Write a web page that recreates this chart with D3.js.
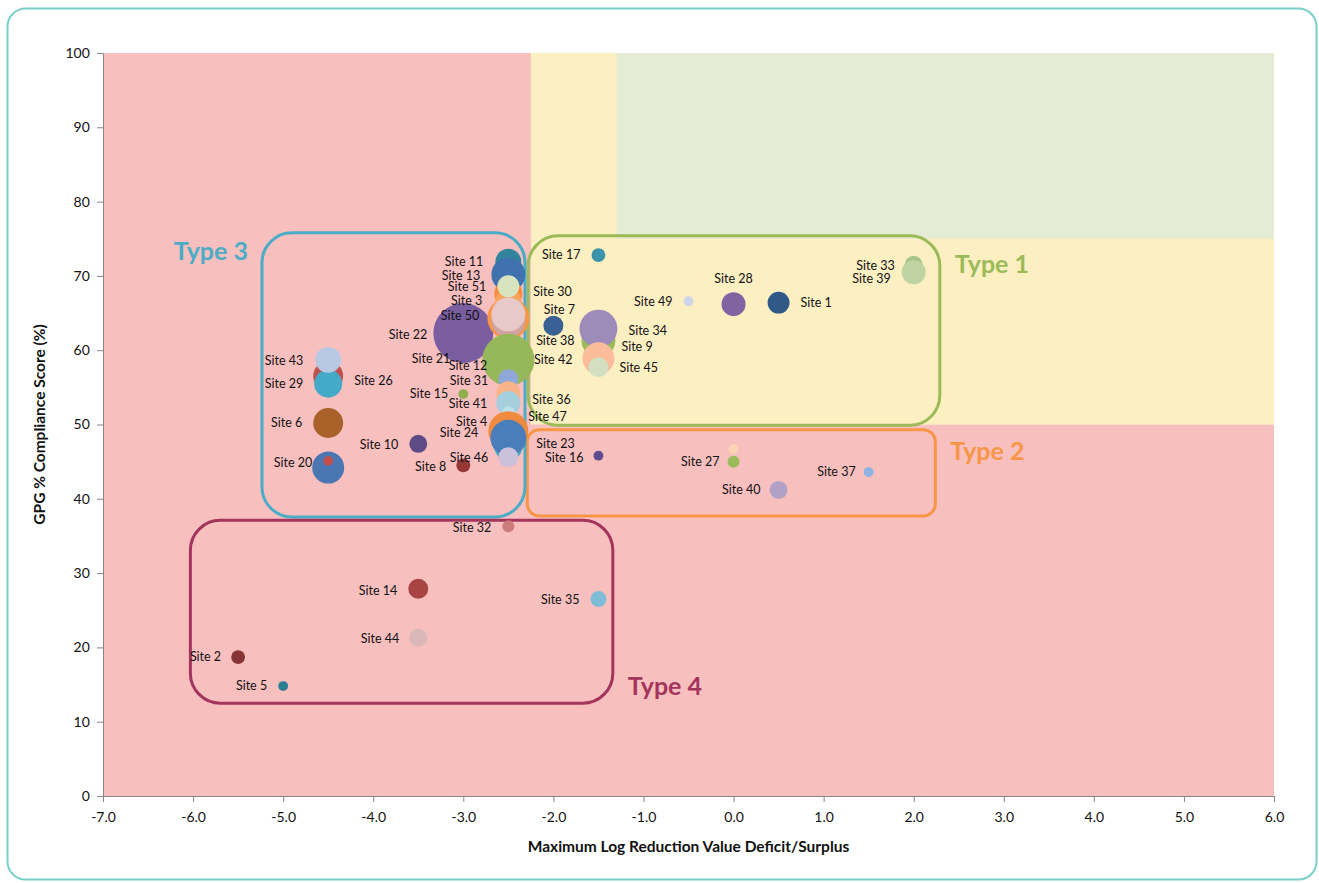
<!DOCTYPE html>
<html>
<head>
<meta charset="utf-8">
<script src="https://cdn.jsdelivr.net/npm/d3@7"></script>
<style>
  body { margin: 0; background: #fff; }
  .chart text { font-family: Lato, 'Open Sans', sans-serif; fill: #111; }
  .axis path, .axis line { stroke: #868686; }
  .axis text { font-size: 14px; }
  .lbl { font-size: 12.5px; }
  .title { font-size: 15.5px; font-weight: bold; }
  .type { font-size: 25px; font-weight: bold; }
</style>
</head>
<body>
<div class="chart"></div>
<script>
(function () {
  // sites, drawn in this order (later ones sit on top)
  var sites = ['Site 21', 'Site 22', 'Site 11', 'Site 13', 'Site 19', 'Site 30', 'Site 3', 'Site 51', 'Site 25', 'Site 50',
    'Site 12', 'Site 31', 'Site 36', 'Site 41', 'Site 47', 'Site 4', 'Site 23', 'Site 24', 'Site 46',
    'Site 32', 'Site 15', 'Site 8', 'Site 10', 'Site 14', 'Site 44', 'Site 2',
    'Site 5', 'Site 26', 'Site 29', 'Site 43', 'Site 6', 'Site 20', 'Site 48', 'Site 35', 'Site 17',
    'Site 38', 'Site 7', 'Site 9', 'Site 34', 'Site 42', 'Site 45', 'Site 16', 'Site 49', 'Site 28',
    'Site 1', 'Site 18', 'Site 27', 'Site 40', 'Site 37', 'Site 33', 'Site 39'];
  var lrvDeficit = [-3, -3, -2.5, -2.5, -2.5, -2.5, -2.5, -2.5, -2.5, -2.5,
    -2.5, -2.5, -2.5, -2.5, -2.5, -2.5, -2.5, -2.5, -2.5,
    -2.5, -3, -3, -3.5, -3.5, -3.5, -5.5,
    -5, -4.5, -4.5, -4.5, -4.5, -4.5, -4.5, -1.5, -1.5,
    -2, -2, -1.5, -1.5, -1.5, -1.5, -1.5, -0.5, 0,
    0.5, 0, 0, 0.5, 1.5, 2, 2];
  var compliance = [59.4, 62.3, 71.9, 70.2, 64.3, 67.6, 66.6, 68.6, 64.0, 64.8,
    58.7, 56.1, 54.2, 52.9, 51.5, 49.1, 47.0, 48.2, 45.6,
    36.3, 54.1, 44.5, 47.4, 27.9, 21.3, 18.7,
    14.8, 56.5, 55.5, 58.7, 50.2, 44.2, 45.1, 26.5, 72.8,
    63.3, 63.3, 61.3, 62.9, 58.9, 57.7, 45.8, 66.6, 66.2,
    66.4, 46.7, 45.0, 41.2, 43.6, 71.5, 70.5];
  var bubbleSize = [16, 225, 42, 72, 110, 49, 42, 30, 72, 72,
    170, 25, 36, 36, 12, 100, 49, 81, 25,
    9, 6, 12, 20, 25, 20, 12,
    6, 56, 49, 42, 56, 64, 6, 16, 12,
    20, 25, 72, 90, 64, 25, 6, 6, 36,
    30, 6, 9, 20, 6, 20, 36];

  var siteColors = ['#6A5088', '#7B5EA0', '#31849B', '#3F72AF', '#F79646', '#F68B3A', '#F9A35F', '#D7E4BD', '#D3A1A0', '#E6C9C8',
    '#97B85A', '#8EA8D8', '#FAB48A', '#A5CFDD', '#BCDFE8', '#F08A3E', '#4BACC6', '#4A7EBB', '#CCC1DA',
    '#CB7C7A', '#8DB04D', '#953735', '#5E4A85', '#A84442', '#D9B8B8', '#873535',
    '#2B7F92', '#C0504D', '#44AAC8', '#B7C8E4', '#A8622A', '#4A76B2', '#C0504D', '#7FBCD6', '#3A93AA',
    '#3A6193', '#3A6193', '#9BBB59', '#9D8BBA', '#FABC9A', '#D2E0C1', '#5F4C8F', '#CCD5EA', '#8064A2',
    '#2F5A88', '#FBD4B4', '#9BBB59', '#B2A1C7', '#8DB3E2', '#A7C585', '#BFD4A3'];

  var xTicks = [-7, -6, -5, -4, -3, -2, -1, 0, 1, 2, 3, 4, 5, 6];
  var yTicks = [0, 10, 20, 30, 40, 50, 60, 70, 80, 90, 100];

  // compliance zones
  var zoneNames = ['poor', 'fair', 'good'];
  var zoneX0 = [-7, -2.25, -1.3];
  var zoneY0 = [0, 50, 75];
  var zoneColors = ['#F8BFBF', '#FCEFC2', '#E4ECD6'];

  // type groupings
  var typeNames = ['Type 1', 'Type 2', 'Type 3', 'Type 4'];
  var typeX = [[-2.28, 2.29], [-2.29, 2.24], [-5.235, -2.315], [-6.03, -1.34]];
  var typeY = [[49.9, 75.4], [37.7, 49.3], [37.55, 75.8], [12.5, 37.1]];
  var typeColors = ['#9BBB59', '#F79646', '#4BACC6', '#A3355C'];
  var typeRadius = [30, 12, 30, 30];
  // label placement: [corner, dx, dy, anchor]
  var typeLabelAt = [['tr', 15, 28, 'start'], ['tr', 15, 22, 'start'], ['tl', -14, 18, 'end'], ['br', 15, -17, 'start']];

  // data label placement [anchor, dx, dy] from bubble centre
  var labelAt = {
    'Site 11': ['end', -25, 0], 'Site 13': ['end', -28, 1], 'Site 30': ['start', 25, -2],
    'Site 3': ['end', -26, -1], 'Site 51': ['end', -22, 0], 'Site 50': ['end', -29, 1],
    'Site 12': ['end', -21, 6], 'Site 31': ['end', -20, 1], 'Site 36': ['start', 24, 6],
    'Site 41': ['end', -21, 1], 'Site 47': ['start', 20, 3], 'Site 4': ['end', -21, -10],
    'Site 23': ['start', 28, -3], 'Site 24': ['end', -30, -5], 'Site 46': ['end', -20, 0],
    'Site 32': ['end', -17, 1], 'Site 21': ['end', -13, 4], 'Site 22': ['end', -36, 2],
    'Site 15': ['end', -15, 0], 'Site 8': ['end', -17, 1], 'Site 10': ['end', -20, 1],
    'Site 14': ['end', -21, 2], 'Site 44': ['end', -19, 1], 'Site 2': ['end', -17, 0],
    'Site 5': ['end', -16, 0], 'Site 26': ['start', 26, 4], 'Site 29': ['end', -25, 0],
    'Site 43': ['end', -25, 1], 'Site 6': ['end', -26, 0], 'Site 20': ['end', -16, -5],
    'Site 35': ['end', -19, 1], 'Site 17': ['end', -18, 0], 'Site 38': ['middle', 2, 15],
    'Site 7': ['middle', 6, -16], 'Site 9': ['start', 23, 6], 'Site 34': ['start', 30, 2],
    'Site 42': ['end', -26, 1], 'Site 45': ['start', 21, 0], 'Site 16': ['end', -15, 2],
    'Site 49': ['end', -16, 0], 'Site 28': ['middle', 0, -26], 'Site 1': ['start', 22, 0],
    'Site 27': ['end', -14, 0], 'Site 40': ['end', -18, 0], 'Site 37': ['end', -13, 0],
    'Site 33': ['end', -19, 1], 'Site 39': ['end', -23, 6]
  };

  var W = 1319, H = 883;
  var margin = {top: 53, right: 45, bottom: 87, left: 103};
  var width = W - margin.left - margin.right;
  var height = H - margin.top - margin.bottom;

  var svg = d3.select('.chart').append('svg')
    .attr('width', W)
    .attr('height', H);

  // outer frame
  svg.append('rect')
    .attr('x', 7.5).attr('y', 8.5)
    .attr('width', W - 10).attr('height', H - 12)
    .attr('rx', 18)
    .attr('fill', 'none')
    .attr('stroke', '#7ACFCB')
    .attr('stroke-width', 2);

  var g = svg.append('g').attr('transform', 'translate(' + margin.left + ',' + margin.top + ')');

  var x = d3.scaleLinear().domain([-7, 6]).range([0, width]);
  var y = d3.scaleLinear().domain([0, 100]).range([height, 0]);
  var r = d3.scaleSqrt().domain([0, 225]).range([0, 30]);

  // zones
  g.append('g').selectAll('rect')
    .data(zoneNames)
    .enter().append('rect')
      .attr('x', function (d, i) { return x(zoneX0[i]); })
      .attr('y', 0)
      .attr('width', function (d, i) { return x(6) - x(zoneX0[i]); })
      .attr('height', function (d, i) { return y(zoneY0[i]); })
      .attr('fill', function (d, i) { return zoneColors[i]; });
  // the fair zone only spans 50-75 where good starts
  g.append('rect')
    .attr('x', x(zoneX0[2])).attr('y', y(75))
    .attr('width', x(6) - x(zoneX0[2])).attr('height', y(50) - y(75))
    .attr('fill', zoneColors[1]);

  // axes
  g.append('g')
      .attr('class', 'axis axis--x')
      .attr('transform', 'translate(0,' + height + ')')
      .call(d3.axisBottom(x).tickValues(xTicks).tickFormat(d3.format('.1f')).tickSize(6).tickSizeOuter(0))
    .selectAll('text')
      .attr('dy', '1.2em')
      .text(function (d) { return d3.format('.1f')(d).replace('−', '-'); });
  g.append('g')
      .attr('class', 'axis axis--y')
      .call(d3.axisLeft(y).tickValues(yTicks).tickSize(6).tickSizeOuter(0))
    .selectAll('text')
      .attr('dx', '-0.3em');

  // type boxes
  g.append('g').selectAll('rect')
    .data(typeNames)
    .enter().append('rect')
      .attr('x', function (d, i) { return x(typeX[i][0]); })
      .attr('y', function (d, i) { return y(typeY[i][1]); })
      .attr('width', function (d, i) { return x(typeX[i][1]) - x(typeX[i][0]); })
      .attr('height', function (d, i) { return y(typeY[i][0]) - y(typeY[i][1]); })
      .attr('rx', function (d, i) { return typeRadius[i]; })
      .attr('fill', 'none')
      .attr('stroke', function (d, i) { return typeColors[i]; })
      .attr('stroke-width', 3);

  // bubbles
  g.append('g').selectAll('circle')
    .data(sites)
    .enter().append('circle')
      .attr('cx', function (d, i) { return x(lrvDeficit[i]); })
      .attr('cy', function (d, i) { return y(compliance[i]); })
      .attr('r', function (d, i) { return r(bubbleSize[i]); })
      .attr('fill', function (d, i) { return siteColors[i]; });

  // data labels
  g.append('g').selectAll('text')
    .data(sites.filter(function (d) { return labelAt[d]; }))
    .enter().append('text')
      .attr('class', 'lbl')
      .attr('x', function (d) { return x(lrvDeficit[sites.indexOf(d)]) + labelAt[d][1]; })
      .attr('y', function (d) { return y(compliance[sites.indexOf(d)]) + labelAt[d][2]; })
      .attr('dy', '0.35em')
      .attr('text-anchor', function (d) { return labelAt[d][0]; })
      .text(function (d) { return d; });

  // type labels
  g.append('g').selectAll('text')
    .data(typeNames)
    .enter().append('text')
      .attr('class', 'type')
      .attr('x', function (d, i) {
        var c = typeLabelAt[i][0];
        return x(c[1] === 'r' ? typeX[i][1] : typeX[i][0]) + typeLabelAt[i][1];
      })
      .attr('y', function (d, i) {
        var c = typeLabelAt[i][0];
        return y(c[0] === 't' ? typeY[i][1] : typeY[i][0]) + typeLabelAt[i][2];
      })
      .attr('dy', '0.35em')
      .attr('text-anchor', function (d, i) { return typeLabelAt[i][3]; })
      .style('fill', function (d, i) { return typeColors[i]; })
      .text(function (d) { return d; });

  // axis titles
  g.append('text')
    .attr('class', 'title')
    .attr('transform', 'rotate(-90)')
    .attr('x', -height / 2)
    .attr('y', -58)
    .style('text-anchor', 'middle')
    .text('GPG % Compliance Score (%)');
  g.append('text')
    .attr('class', 'title')
    .attr('x', x(0) - 45)
    .attr('y', height + 56)
    .style('text-anchor', 'middle')
    .text('Maximum Log Reduction Value Deficit/Surplus');
})();
</script>
</body>
</html>
